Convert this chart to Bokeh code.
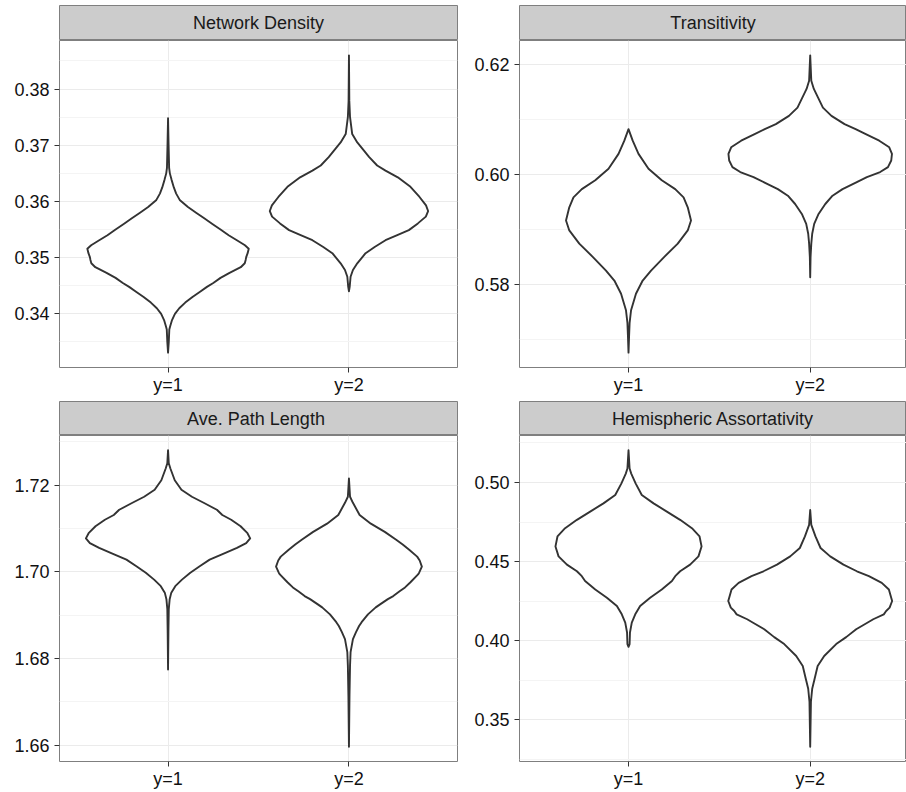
from bokeh.plotting import figure
from bokeh.models import Range1d, FixedTicker, PrintfTickFormatter
from bokeh.layouts import column, row
from bokeh.embed import file_html
from bokeh.resources import INLINE
from bokeh.core.properties import value

# ---------------- data ----------------
categories = ["y=1", "y=2"]
panel_titles = ["Network Density", "Transitivity", "Ave. Path  Length", "Hemispheric Assortativity"]

# violin outlines: metric value (y) and half-width (in category units)
nd1_y = [0.3748, 0.3700, 0.3660, 0.3650, 0.3638, 0.3625, 0.3614, 0.3602, 0.3590, 0.3580, 0.3570, 0.3560,
         0.3550, 0.3540, 0.3530, 0.3522, 0.3516, 0.3508, 0.3501, 0.3496, 0.3490, 0.3483, 0.3473, 0.3464,
         0.3455, 0.3448, 0.3439, 0.3430, 0.3420, 0.3410, 0.3400, 0.3389, 0.3377, 0.3372, 0.3350, 0.3331]
nd1_w = [0.0, 0.003, 0.006, 0.010, 0.020, 0.032, 0.045, 0.066, 0.110, 0.155, 0.200, 0.245,
         0.290, 0.335, 0.385, 0.425, 0.446, 0.440, 0.432, 0.429, 0.424, 0.402, 0.340, 0.290,
         0.250, 0.215, 0.175, 0.135, 0.095, 0.062, 0.038, 0.022, 0.011, 0.007, 0.004, 0.0]
nd2_y = [0.3860, 0.3779, 0.3750, 0.3720, 0.3705, 0.3694, 0.3679, 0.3664, 0.3655, 0.3643, 0.3626, 0.3608,
         0.3593, 0.3583, 0.3573, 0.3561, 0.3549, 0.3540, 0.3531, 0.3519, 0.3508, 0.3490, 0.3478, 0.3466,
         0.3448, 0.3440]
nd2_w = [0.0, 0.002, 0.006, 0.018, 0.046, 0.074, 0.112, 0.156, 0.202, 0.270, 0.340, 0.390,
         0.426, 0.4375, 0.425, 0.381, 0.331, 0.267, 0.202, 0.142, 0.092, 0.046, 0.022, 0.009,
         0.004, 0.0]

tr1_y = [0.6082, 0.6061, 0.6037, 0.6010, 0.5989, 0.5973, 0.5958, 0.5940, 0.5916, 0.5898, 0.5874, 0.5850,
         0.5825, 0.5807, 0.5783, 0.5753, 0.5730, 0.5705, 0.5676]
tr1_w = [0.0, 0.023, 0.055, 0.110, 0.183, 0.257, 0.303, 0.326, 0.344, 0.326, 0.271, 0.197,
         0.124, 0.078, 0.041, 0.014, 0.006, 0.003, 0.0]
tr2_y = [0.6216, 0.6170, 0.6155, 0.6140, 0.6121, 0.6106, 0.6091, 0.6082, 0.6073, 0.6061, 0.6049, 0.6037,
         0.6025, 0.6013, 0.6004, 0.5995, 0.5985, 0.5973, 0.5961, 0.5946, 0.5928, 0.5910, 0.5892, 0.5874,
         0.5850, 0.5813]
tr2_w = [0.0, 0.006, 0.020, 0.042, 0.070, 0.117, 0.189, 0.250, 0.306, 0.380, 0.435, 0.450,
         0.446, 0.428, 0.385, 0.312, 0.251, 0.178, 0.123, 0.083, 0.046, 0.022, 0.011, 0.006,
         0.002, 0.0]

apl1_y = [1.7280, 1.7250, 1.7238, 1.7211, 1.7189, 1.7173, 1.7158, 1.7143, 1.7131, 1.7120, 1.7105, 1.7089,
          1.7077, 1.7066, 1.7055, 1.7040, 1.7028, 1.7013, 1.6998, 1.6982, 1.6967, 1.6952, 1.6937, 1.6914,
          1.6860, 1.6775]
apl1_w = [0.0, 0.004, 0.013, 0.037, 0.074, 0.132, 0.202, 0.270, 0.300, 0.349, 0.401, 0.439,
          0.454, 0.432, 0.381, 0.298, 0.230, 0.175, 0.123, 0.077, 0.040, 0.018, 0.009, 0.004,
          0.002, 0.0]
apl2_y = [1.7215, 1.7173, 1.7159, 1.7131, 1.7111, 1.7092, 1.7074, 1.7063, 1.7051, 1.7035, 1.7026, 1.7012,
          1.6998, 1.6994, 1.6976, 1.6964, 1.6955, 1.6944, 1.6937, 1.6925, 1.6918, 1.6902, 1.6884, 1.6875,
          1.6861, 1.6845, 1.6815, 1.6784, 1.6715, 1.6597]
apl2_w = [0.0, 0.006, 0.022, 0.059, 0.121, 0.198, 0.261, 0.297, 0.333, 0.377, 0.391, 0.403,
          0.388, 0.382, 0.340, 0.310, 0.280, 0.245, 0.215, 0.172, 0.148, 0.105, 0.070, 0.056,
          0.039, 0.022, 0.009, 0.006, 0.003, 0.0]

ha1_y = [0.5203, 0.5088, 0.5056, 0.4994, 0.4921, 0.4868, 0.4816, 0.4764, 0.4711, 0.4659, 0.4596, 0.4533,
         0.4481, 0.4439, 0.4408, 0.4377, 0.4324, 0.4272, 0.4220, 0.4167, 0.4115, 0.4052, 0.3979, 0.3962]
ha1_w = [0.0, 0.006, 0.015, 0.039, 0.073, 0.138, 0.211, 0.284, 0.349, 0.391, 0.402, 0.385,
         0.339, 0.284, 0.257, 0.239, 0.183, 0.119, 0.064, 0.037, 0.018, 0.008, 0.006, 0.0]
ha2_y = [0.4826, 0.4732, 0.4659, 0.4586, 0.4533, 0.4481, 0.4439, 0.4408, 0.4366, 0.4324, 0.4251, 0.4209,
         0.4188, 0.4167, 0.4136, 0.4117, 0.4073, 0.4023, 0.3979, 0.3904, 0.3841, 0.3759, 0.3697, 0.3615,
         0.3331]
ha2_w = [0.0, 0.006, 0.029, 0.057, 0.110, 0.183, 0.257, 0.323, 0.394, 0.433, 0.451, 0.437,
         0.418, 0.405, 0.347, 0.319, 0.253, 0.198, 0.143, 0.077, 0.041, 0.024, 0.011, 0.004,
         0.0]

# axis ticks per panel
nd_major = [0.34, 0.35, 0.36, 0.37, 0.38]
nd_minor = [0.335, 0.345, 0.355, 0.365, 0.375, 0.385]
tr_major = [0.58, 0.60, 0.62]
tr_minor = [0.57, 0.59, 0.61]
apl_major = [1.66, 1.68, 1.70, 1.72]
apl_minor = [1.67, 1.69, 1.71, 1.73]
ha_major = [0.35, 0.40, 0.45, 0.50]
ha_minor = [0.325, 0.375, 0.425, 0.475, 0.525]

# ---------------- style ----------------
FONT = "Liberation Sans"
BORDER = "#7F7F7F"
STRIP_FILL = "#CCCCCC"
GRID_MAJOR = "#EBEBEB"
GRID_MINOR = "#F4F4F4"
VIOLIN_LINE = "#333333"


def strip(title, width, height, bt, bl, br):
    s = figure(width=width, height=height, x_range=Range1d(0, 1), y_range=Range1d(0, 1),
               x_axis_type=None, y_axis_type=None, toolbar_location=None, output_backend="svg",
               min_border_left=bl, min_border_right=br, min_border_top=bt, min_border_bottom=0)
    s.background_fill_color = STRIP_FILL
    s.border_fill_color = "white"
    s.outline_line_color = BORDER
    s.xgrid.visible = False
    s.ygrid.visible = False
    s.text(x=[0.5], y=[0.5], text=[title], text_align="center", text_baseline="middle",
           text_font=value(FONT), text_font_size="18px", text_color="#1A1A1A")
    return s


def panel(violins, majors, minors, width, height, bl, br, bb, xend):
    all_y = [v for ys, _ in violins for v in ys]
    lo, hi = min(all_y), max(all_y)
    pad = 0.05 * (hi - lo)
    p = figure(width=width, height=height, x_range=Range1d(0.4, xend),
               y_range=Range1d(lo - pad, hi + pad), toolbar_location=None, output_backend="svg",
               min_border_left=bl, min_border_right=br, min_border_top=0, min_border_bottom=bb)
    p.background_fill_color = "white"
    p.border_fill_color = "white"
    p.outline_line_color = BORDER
    p.outline_line_width = 1

    p.yaxis.ticker = FixedTicker(ticks=majors, minor_ticks=minors)
    p.yaxis.formatter = PrintfTickFormatter(format="%.2f")
    p.xaxis.ticker = FixedTicker(ticks=[1, 2])
    p.xaxis.major_label_overrides = {i + 1: c for i, c in enumerate(categories)}
    for ax in (p.xaxis[0], p.yaxis[0]):
        ax.axis_line_color = None
        ax.major_tick_line_color = "#333333"
        ax.major_tick_out = 5
        ax.major_tick_in = 0
        ax.minor_tick_line_color = None
        ax.major_label_text_font = FONT
        ax.major_label_text_font_size = "18px"
        ax.major_label_text_color = "#111111"
    p.yaxis.major_label_standoff = 5
    p.xaxis.major_label_standoff = 2

    p.ygrid.grid_line_color = GRID_MAJOR
    p.ygrid.minor_grid_line_color = GRID_MINOR
    p.xgrid.grid_line_color = GRID_MAJOR

    for i, (ys, ws) in enumerate(violins):
        c = i + 1
        xs = [c + w for w in ws] + [c - w for w in reversed(ws)]
        yy = list(ys) + list(reversed(ys))
        p.patch(xs, yy, fill_color="white", line_color=VIOLIN_LINE, line_width=1.9,
                line_join="round")
    return p


LW, RW = 463, 443
LBL, LBR = 59, 6
RBL, RBR = 56, 0
R_XEND = 2.53

s1 = strip(panel_titles[0], LW, 40, 5, LBL, LBR)
s2 = strip(panel_titles[1], RW, 40, 5, RBL, RBR)
p1 = panel([(nd1_y, nd1_w), (nd2_y, nd2_w)], nd_major, nd_minor, LW, 361, LBL, LBR, 34, 2.6)
p2 = panel([(tr1_y, tr1_w), (tr2_y, tr2_w)], tr_major, tr_minor, RW, 361, RBL, RBR, 34, R_XEND)
s3 = strip(panel_titles[2], LW, 34, 0, LBL, LBR)
s4 = strip(panel_titles[3], RW, 34, 0, RBL, RBR)
p3 = panel([(apl1_y, apl1_w), (apl2_y, apl2_w)], apl_major, apl_minor, LW, 356, LBL, LBR, 29, 2.6)
p4 = panel([(ha1_y, ha1_w), (ha2_y, ha2_w)], ha_major, ha_minor, RW, 356, RBL, RBR, 29, R_XEND)

layout = column(row(column(s1, p1), column(s2, p2)), row(column(s3, p3), column(s4, p4)))

with open("out.html", "w") as f:
    f.write(file_html(layout, INLINE))
